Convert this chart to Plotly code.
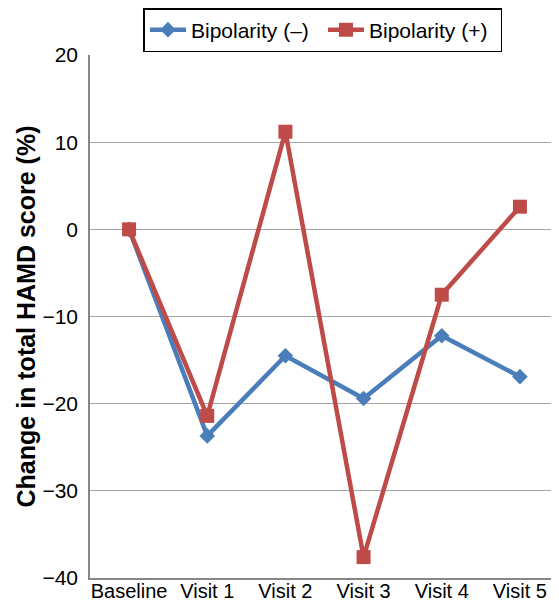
import plotly.graph_objects as go

categories = ["Baseline", "Visit 1", "Visit 2", "Visit 3", "Visit 4", "Visit 5"]
bipolar_neg = [0, -23.7, -14.5, -19.4, -12.2, -16.9]
bipolar_pos = [0, -21.4, 11.2, -37.6, -7.5, 2.6]
y_ticks = [20, 10, 0, -10, -20, -30, -40]

fig = go.Figure()
fig.add_trace(go.Scatter(
    x=categories, y=bipolar_neg, name="Bipolarity (–)", mode="lines+markers",
    line=dict(color="#4A7EBB", width=4.5),
    marker=dict(symbol="diamond", size=12, color="#4A7EBB"),
))
fig.add_trace(go.Scatter(
    x=categories, y=bipolar_pos, name="Bipolarity (+)", mode="lines+markers",
    line=dict(color="#BE4B48", width=4.5),
    marker=dict(symbol="square", size=14, color="#BE4B48"),
))

fig.update_layout(
    width=551, height=595,
    margin=dict(l=82, r=0, t=47, b=25),
    paper_bgcolor="white", plot_bgcolor="white",
    font=dict(family="Liberation Sans, Arial, sans-serif", color="#000000"),
    showlegend=True,
    legend=dict(
        orientation="h", x=0.114, y=1.09, xanchor="left", yanchor="top",
        bordercolor="#000000", borderwidth=1.5, bgcolor="white",
        font=dict(size=21), itemwidth=36, entrywidth=127,
    ),
    xaxis=dict(
        type="category", range=[-0.5, 5.5], automargin=False,
        showline=True, linecolor="#868686", linewidth=1.5,
        showgrid=False, ticks="", tickfont=dict(size=20),
        ticklabelstandoff=-6,
    ),
    yaxis=dict(
        range=[-40, 20], tickvals=y_ticks, automargin=False,
        showline=True, linecolor="#868686", linewidth=1.5,
        showgrid=True, gridcolor="#A6A6A6", gridwidth=1,
        zeroline=False, ticks="", tickfont=dict(size=21),
        ticklabelstandoff=6,
        title=dict(text="<b>Change in total HAMD score (%)</b>", font=dict(size=25), standoff=0),
    ),
)

fig.write_html("out.html")
